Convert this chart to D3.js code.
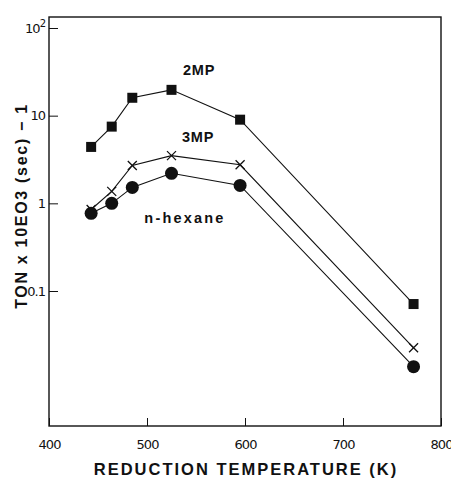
<!DOCTYPE html>
<html>
<head>
<meta charset="utf-8">
<script src="https://cdn.jsdelivr.net/npm/d3@7"></script>
<style>
body { margin: 0; background: #fff; }
svg { display: block; }
</style>
</head>
<body>
<script>
// reduction temperatures (K)
var temps = [443, 464, 485, 525, 595, 772];
// TON values per series
var mp2 = [4.4, 7.5, 16, 19.7, 9.0, 0.071];
var mp3 = [0.85, 1.37, 2.7, 3.5, 2.75, 0.0225];
var hexane = [0.77, 1.0, 1.52, 2.2, 1.6, 0.0137];

var xTicks = [400, 500, 600, 700, 800];
var yTicks = [100, 10, 1, 0.1];
var yTickLabels = ["10", "10", "1", "0.1"];

var W = 451, H = 481;
var svg = d3.select("body").append("svg").attr("width", W).attr("height", H);

var mLeft = 49, mRight = 441, mTop = 17, mBottom = 426;

var x = d3.scaleLinear().domain([400, 800]).range([mLeft, mRight]);
// 10^2 at y=28, 0.1 at y=291
var y = d3.scaleLog().domain([0.1, 100]).range([291, 28]);

var ink = "#111";

// frame
svg.append("rect").attr("x", mLeft).attr("y", mTop)
  .attr("width", mRight - mLeft).attr("height", mBottom - mTop)
  .attr("fill", "none").attr("stroke", ink).attr("stroke-width", 1.4);

// x ticks (inward)
var xAxis = d3.axisBottom(x).tickValues(xTicks).tickSize(-8).tickPadding(14)
  .tickFormat(d3.format("d"));
var gx = svg.append("g").attr("transform", "translate(0," + mBottom + ")").call(xAxis);
gx.select(".domain").remove();
gx.selectAll("line").attr("stroke", ink);
gx.selectAll("text").attr("font-family", "DejaVu Sans, sans-serif")
  .attr("font-size", 13).attr("fill", ink).attr("letter-spacing", -1);

// y ticks (inward)
var yAxis = d3.axisLeft(y).tickValues(yTicks).tickSize(-9).tickPadding(4)
  .tickFormat(function(d, i) { return yTickLabels[i]; });
var gy = svg.append("g").attr("transform", "translate(" + mLeft + ",0)").call(yAxis);
gy.select(".domain").remove();
gy.selectAll("line").attr("stroke", ink);
gy.selectAll("text").attr("font-family", "DejaVu Sans, sans-serif")
  .attr("font-size", 13).attr("fill", ink).attr("letter-spacing", -1);
// superscript on 10^2
gy.selectAll("text").filter(function(d) { return d === 100; })
  .append("tspan").attr("dy", -6).attr("font-size", 10).text("2");

// axis titles
svg.append("text").attr("x", 246).attr("y", 475).attr("text-anchor", "middle")
  .attr("font-family", "Liberation Sans, Arial, sans-serif").attr("font-weight", "bold")
  .attr("font-size", 16.5).attr("letter-spacing", 2).attr("fill", ink)
  .text("REDUCTION TEMPERATURE (K)");

svg.append("text").attr("transform", "translate(27,206) rotate(-90)")
  .attr("text-anchor", "middle")
  .attr("font-family", "Liberation Sans, Arial, sans-serif").attr("font-weight", "bold")
  .attr("font-size", 16).attr("letter-spacing", 1.7).attr("fill", ink)
  .text("TON x 10EO3 (sec) \u2212 1");

// series
var line = d3.line().x(function(d) { return x(d[0]); }).y(function(d) { return y(d[1]); });
function pts(vals) { return temps.map(function(t, i) { return [t, vals[i]]; }); }

[mp2, mp3, hexane].forEach(function(vals) {
  svg.append("path").datum(pts(vals)).attr("d", line)
    .attr("fill", "none").attr("stroke", ink).attr("stroke-width", 1.1);
});

svg.append("g").selectAll("rect").data(pts(mp2)).join("rect")
  .attr("x", function(d) { return x(d[0]) - 5; })
  .attr("y", function(d) { return y(d[1]) - 5; })
  .attr("width", 10).attr("height", 10).attr("fill", ink);

svg.append("g").selectAll("path").data(pts(mp3)).join("path")
  .attr("d", function(d) {
    var cx = x(d[0]), cy = y(d[1]), s = 4.5;
    return "M" + (cx - s) + "," + (cy - s) + "L" + (cx + s) + "," + (cy + s) +
      "M" + (cx - s) + "," + (cy + s) + "L" + (cx + s) + "," + (cy - s);
  })
  .attr("stroke", ink).attr("stroke-width", 1.3).attr("fill", "none");

svg.append("g").selectAll("circle").data(pts(hexane)).join("circle")
  .attr("cx", function(d) { return x(d[0]); })
  .attr("cy", function(d) { return y(d[1]); })
  .attr("r", 6.5).attr("fill", ink);

// series labels: text, x, y, letter spacing
var labels = [["2MP", 199, 75, 0.8], ["3MP", 198, 142, 0.8], ["n-hexane", 185, 223, 2.2]];
svg.append("g").selectAll("text").data(labels).join("text")
  .attr("x", function(d) { return d[1]; }).attr("y", function(d) { return d[2]; })
  .attr("text-anchor", "middle")
  .attr("font-family", "Liberation Sans, Arial, sans-serif").attr("font-weight", "bold")
  .attr("font-size", 14.5).attr("letter-spacing", function(d) { return d[3]; }).attr("fill", ink)
  .text(function(d) { return d[0]; });
</script>
</body>
</html>
